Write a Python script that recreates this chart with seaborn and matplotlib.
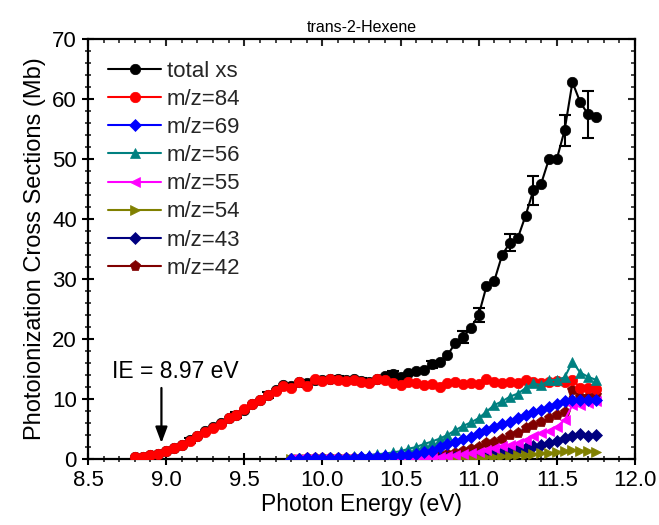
import numpy as np
import pandas as pd
import matplotlib
matplotlib.use("Agg")
import matplotlib.pyplot as plt
import seaborn as sns

# Photon energy grids (eV)
energy_full = np.round(np.arange(8.80, 11.7501, 0.05), 2)   # 60 points
energy_frag = np.round(np.arange(9.80, 11.7501, 0.05), 2)   # 40 points

total_xs = [0.3, 0.4, 0.6, 0.9, 1.3, 1.9, 2.4, 3.1, 3.8, 4.6, 5.3, 6.0, 6.9, 7.4, 8.2, 9.2,
            9.9, 10.6, 11.5, 12.3, 12.1, 12.9, 12.6, 13.2, 13.2, 13.3, 13.3, 13.1, 13.3, 13.0,
            12.9, 13.3,
            13.8, 14.2, 13.6, 14.4, 14.7, 14.9, 15.8, 16.2, 17.3, 19.3, 20.3, 21.9, 24.0, 28.8,
            29.7, 34.0, 36.05, 36.8, 40.55, 44.8, 45.9, 50.0, 50.0, 54.8, 62.8, 59.45, 57.45, 57.05]

mz84 = [0.3, 0.4, 0.6, 0.9, 1.4, 1.9, 2.4, 3.0, 3.8, 4.5, 5.2, 5.9, 6.9, 7.3, 8.3, 9.2,
        9.8, 10.7, 11.4, 12.2, 11.8, 12.9, 12.2, 13.3, 13.0, 13.3, 13.2, 13.0, 13.2, 12.8,
        12.7, 13.3,
        13.2, 12.7, 12.3, 12.9, 12.6, 12.3, 12.5, 12.05, 12.7, 12.9, 12.5, 12.6, 12.5, 13.4,
        12.9, 12.6, 12.9, 12.7, 13.2, 12.9, 12.6, 12.9, 13.0, 12.9, 13.2, 11.9, 11.9, 11.7]

mz69 = [0.05, 0.05, 0.1, 0.1, 0.1, 0.15, 0.15, 0.2, 0.25, 0.3, 0.35, 0.4,
        0.5, 0.55, 0.65, 0.7, 0.9, 1.1, 1.4, 2.0, 2.5, 2.9, 3.3, 3.7, 4.3, 4.8,
        5.4, 5.8, 6.2, 6.8, 7.3, 7.9, 8.2, 8.7, 9.2, 9.6, 9.9, 9.8, 9.8, 9.9]

mz56 = [0.1, 0.15, 0.2, 0.2, 0.25, 0.3, 0.35, 0.4, 0.5, 0.55, 0.65, 0.8,
        0.9, 1.1, 1.3, 1.7, 2.0, 2.5, 2.9, 3.4, 4.0, 4.8, 5.5, 6.1, 6.8, 7.9,
        9.0, 9.6, 10.4, 10.9, 11.8, 12.6, 12.3, 13.1, 13.2, 13.6, 16.2, 14.4, 13.7, 13.2]

mz55 = [0.02, 0.02, 0.03, 0.03, 0.04, 0.05, 0.05, 0.06, 0.07, 0.08, 0.09, 0.1,
        0.1, 0.1, 0.1, 0.15, 0.15, 0.2, 0.25, 0.35, 0.45, 0.6, 0.8, 1.0, 1.2, 1.5,
        1.8, 2.1, 2.4, 2.7, 3.2, 3.8, 4.3, 4.7, 5.4, 6.5, 9.0, 9.0, 9.3, 9.6]

mz54 = [0.01, 0.01, 0.01, 0.01, 0.02, 0.02, 0.02, 0.02, 0.02, 0.02, 0.02, 0.02,
        0.02, 0.02, 0.03, 0.03, 0.04, 0.05, 0.06, 0.07, 0.08, 0.1, 0.12, 0.15, 0.2, 0.3,
        0.4, 0.5, 0.55, 0.6, 0.7, 0.8, 1.0, 1.0, 1.15, 1.3, 1.5, 1.4, 1.35, 1.2]

mz43 = [0.02, 0.02, 0.02, 0.02, 0.03, 0.03, 0.03, 0.03, 0.04, 0.04, 0.05, 0.05,
        0.05, 0.05, 0.1, 0.1, 0.1, 0.15, 0.15, 0.2, 0.25, 0.3, 0.35, 0.45, 0.6, 0.8,
        1.0, 1.2, 1.4, 1.6, 1.8, 2.1, 2.4, 2.7, 3.0, 3.5, 3.9, 4.1, 3.9, 4.0]

mz42 = [0.05, 0.05, 0.1, 0.1, 0.1, 0.1, 0.15, 0.15, 0.15, 0.2, 0.2, 0.25,
        0.25, 0.3, 0.3, 0.35, 0.35, 0.45, 0.5, 0.6, 0.8, 1.0, 1.3, 1.6, 2.0, 2.6,
        2.9, 3.4, 4.0, 4.3, 5.1, 5.7, 6.1, 6.8, 7.3, 7.9, 11.5, 10.4, 10.3, 10.7]

# Uncertainties on the total cross section at selected energies
err_energy = [9.15, 9.45, 9.65, 9.90, 10.10, 10.25, 10.45, 10.70, 10.90, 11.00, 11.20, 11.35, 11.55, 11.70]
err_size = [0.4, 0.5, 0.5, 0.6, 0.5, 0.5, 0.5, 0.6, 1.0, 1.2, 1.4, 2.4, 2.6, 3.9]

series = [
    ("total xs", energy_full, total_xs, "black", "o", 7.5),
    ("m/z=84", energy_full, mz84, "#FF0000", "o", 7.5),
    ("m/z=69", energy_frag, mz69, "#0000FF", "D", 6.0),
    ("m/z=56", energy_frag, mz56, "#008080", "^", 7.5),
    ("m/z=55", energy_frag, mz55, "#FF00FF", "<", 7.5),
    ("m/z=54", energy_frag, mz54, "#808000", ">", 7.5),
    ("m/z=43", energy_frag, mz43, "#000080", "D", 6.0),
    ("m/z=42", energy_frag, mz42, "#800000", "p", 8.0),
]

sns.set_theme(style="white")
plt.rcParams["font.family"] = ["Liberation Sans", "DejaVu Sans"]

fig = plt.figure(figsize=(6.59, 5.25), dpi=100)
ax = fig.add_axes([0.1335, 0.1257, 0.830, 0.800])

# total xs error bars (drawn beneath its markers)
tot_lookup = dict(zip(energy_full.tolist(), total_xs))
err_y = [tot_lookup[round(e, 2)] for e in err_energy]
ax.errorbar(err_energy, err_y, yerr=err_size, fmt="none", ecolor="black",
            elinewidth=1.5, capsize=4, capthick=1.5, zorder=2)

for i, (name, xs, ys, col, mk, ms) in enumerate(series):
    df = pd.DataFrame({"energy": xs, "xs": ys})
    sns.lineplot(data=df, x="energy", y="xs", ax=ax, color=col, marker=mk,
                 markersize=ms, markeredgecolor=col, markeredgewidth=0.5,
                 linewidth=1.5, label=name, zorder=10 - i if i > 1 else 3 + i)

ax.set_xlim(8.5, 12.0)
ax.set_ylim(0, 70)
ax.set_xticks(np.arange(8.5, 12.01, 0.5))
ax.set_xticks(np.arange(8.5, 12.01, 0.1), minor=True)
ax.set_yticks(np.arange(0, 71, 10))
ax.set_yticks(np.arange(0, 71, 2), minor=True)
ax.set_xticklabels([f"{v:.1f}" for v in np.arange(8.5, 12.01, 0.5)])

for side in ["left", "right", "top", "bottom"]:
    ax.spines[side].set_visible(True)
    ax.spines[side].set_color("black")
    ax.spines[side].set_linewidth(1.6)

ax.tick_params(axis="both", which="major", direction="inout", length=8, width=1.5,
               labelsize=16, colors="black", top=False, right=False, bottom=True, left=True,
               pad=4)
ax.tick_params(axis="both", which="minor", direction="inout", length=5, width=1.2,
               bottom=True, left=True)
# inward ticks on the top and right frame
ax2 = ax.secondary_xaxis("top")
ax2.set_xticks(np.arange(8.5, 12.01, 0.5))
ax2.set_xticks(np.arange(8.5, 12.01, 0.1), minor=True)
ax2.tick_params(which="major", direction="in", length=5, width=1.5, labeltop=False)
ax2.tick_params(which="minor", direction="in", length=3, width=1.2)
ax2.set_xticklabels([])
ax3 = ax.secondary_yaxis("right")
ax3.set_yticks(np.arange(0, 71, 10))
ax3.set_yticks(np.arange(0, 71, 2), minor=True)
ax3.tick_params(which="major", direction="in", length=5, width=1.5, labelright=False)
ax3.tick_params(which="minor", direction="in", length=3, width=1.2)
ax3.set_yticklabels([])
for s in ax2.spines.values():
    s.set_visible(False)
for s in ax3.spines.values():
    s.set_visible(False)

ax.set_xlabel("Photon Energy (eV)", fontsize=16.5, color="black", labelpad=1)
ax.set_ylabel("Photoionization Cross Sections (Mb)", fontsize=17, color="black", labelpad=4)
ax.set_title("trans-2-Hexene", fontsize=11.5, color="black", pad=5)

ax.annotate("", xy=(8.97, 2.2), xytext=(8.97, 12.3),
            arrowprops=dict(arrowstyle="-|>,head_length=0.8,head_width=0.3",
                            color="black", lw=1.6))
ax.text(9.06, 14.6, "IE = 8.97 eV", fontsize=16.5, ha="center", va="center", color="black")

leg = ax.legend(loc="upper left", frameon=False, fontsize=16, handlelength=2.4,
                labelspacing=0.32, borderaxespad=0.3, handletextpad=0.25,
                bbox_to_anchor=(0.008, 0.985))

fig.savefig("out.png", dpi=100)
